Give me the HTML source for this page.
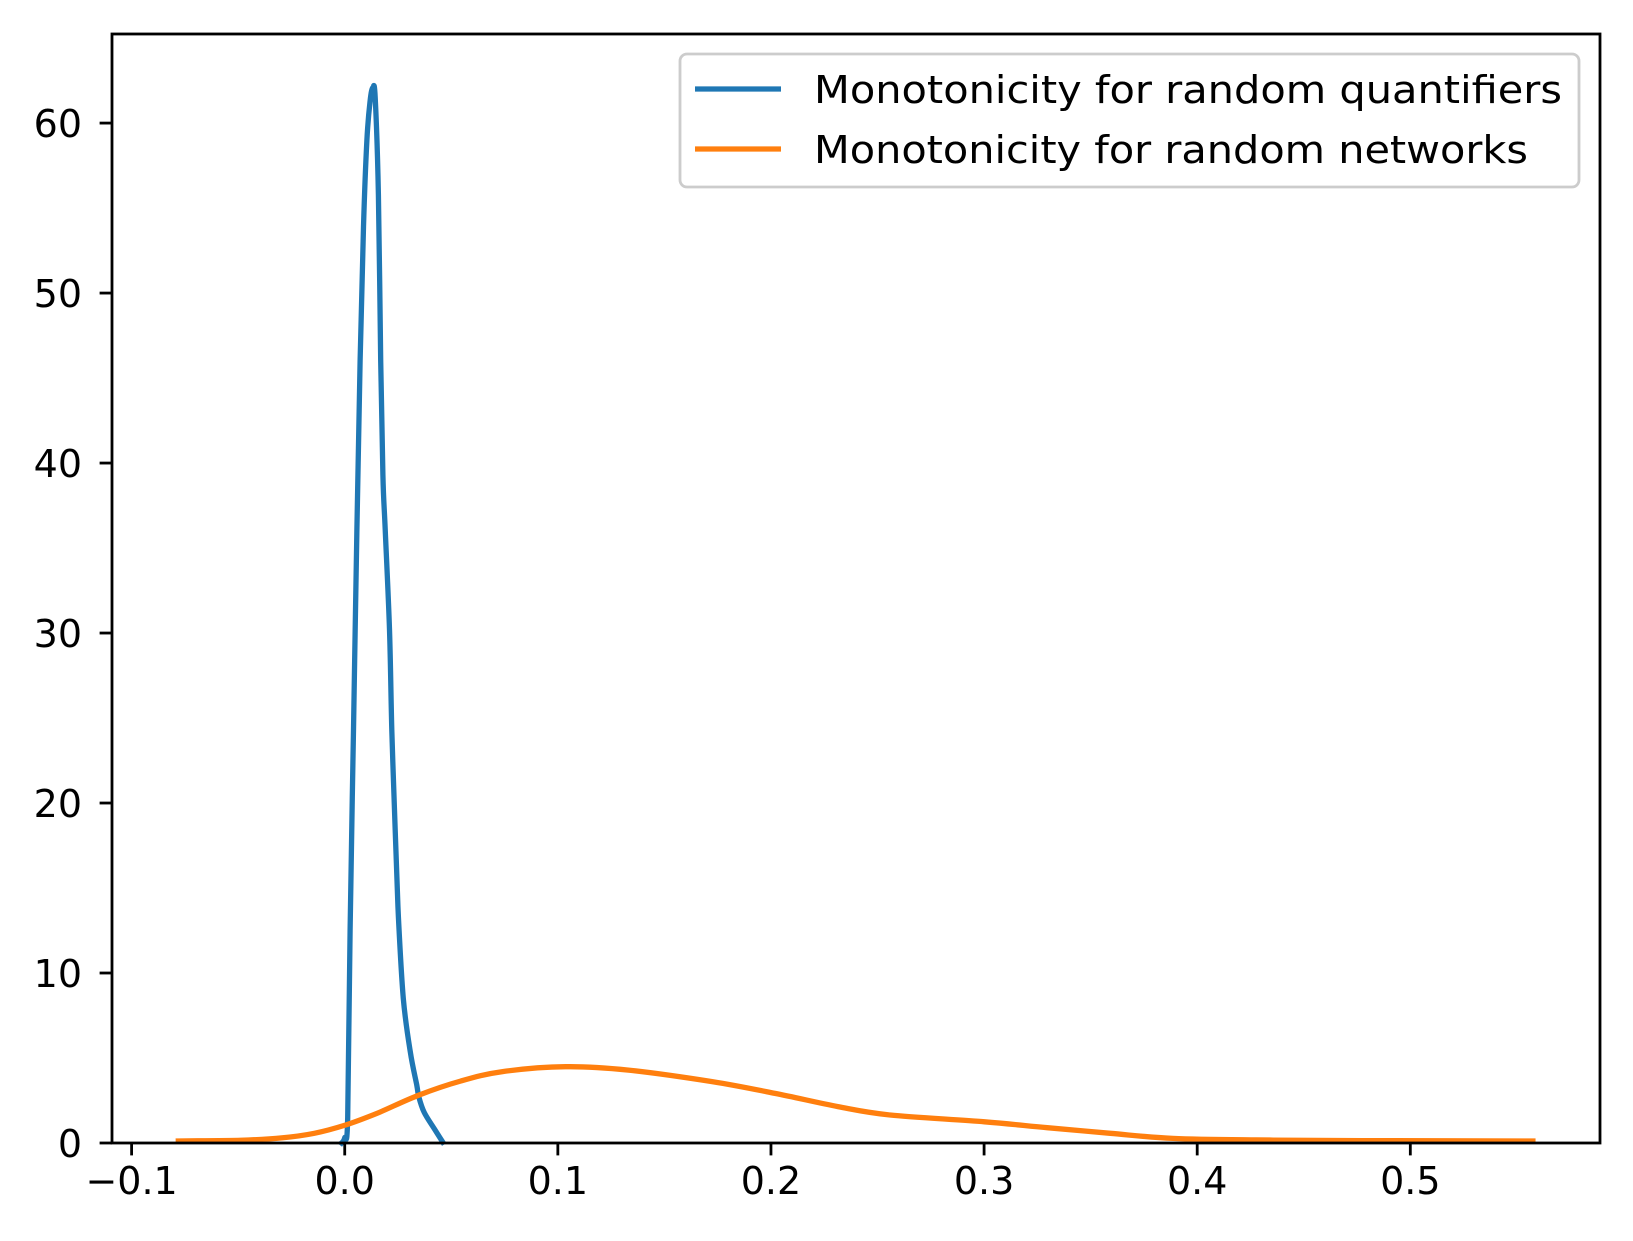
<!DOCTYPE html>
<html><head><meta charset="utf-8"><style>
html,body{margin:0;padding:0;background:#fff}
svg{display:block}
text{font-family:"DejaVu Sans","Liberation Sans",sans-serif;fill:#000}
</style></head><body>
<svg id="chart" width="1633" height="1241" viewBox="0 0 1633 1241" xmlns="http://www.w3.org/2000/svg">
<rect x="0" y="0" width="1633" height="1241" fill="#fff"/>
<g id="plot"></g>
</svg>
<script>
const xTicks=[-0.1,0.0,0.1,0.2,0.3,0.4,0.5];
const xTickLabels=["\u22120.1","0.0","0.1","0.2","0.3","0.4","0.5"];
const yTicks=[0,10,20,30,40,50,60];
const yTickLabels=["0","10","20","30","40","50","60"];
const quantX=[-0.0015,0.0000,0.0014,0.0025,0.0041,0.0057,0.0072,0.0088,0.0104,0.0119,0.0132,0.0143,0.0158,0.0169,0.0179,0.0190,0.0210,0.0221,0.0237,0.0252,0.0275,0.0307,0.0338,0.0348,0.0373,0.0422,0.0460];
const quantY=[0,0.3,1.5,12.5,24.3,36.1,46.0,53.9,59.0,61.3,62.1,61.5,55.8,46.0,39.3,36.1,30.2,24.3,18.4,13.3,8.5,5.4,3.4,2.7,1.8,0.8,0.05];
const netX=[-0.0781,-0.0487,-0.0290,-0.0143,0.0004,0.0152,0.0348,0.0545,0.0741,0.1036,0.1331,0.1724,0.2019,0.2314,0.2559,0.3002,0.3296,0.3592,0.3886,0.4279,0.4771,0.5575];
const netY=[0.12,0.16,0.31,0.57,1.06,1.75,2.82,3.65,4.20,4.49,4.29,3.61,2.92,2.14,1.65,1.25,0.90,0.57,0.27,0.18,0.14,0.12];
const seriesNames=["Monotonicity for random quantifiers","Monotonicity for random networks"];

const L=112,R=1600,T=34,B=1143;
const XMIN=-0.1092,XMAX=0.5890,YMIN=0,YMAX=65.24;
function sx(v){return L+(v-XMIN)/(XMAX-XMIN)*(R-L);}
function sy(v){return B-(v-YMIN)/(YMAX-YMIN)*(B-T);}
const NS="http://www.w3.org/2000/svg";
const g=document.getElementById('plot');
function mk(tag,attrs){const e=document.createElementNS(NS,tag);for(const k in attrs)e.setAttribute(k,attrs[k]);g.appendChild(e);return e;}

function smoothPath(xs,ys){
  const P=xs.map((x,i)=>[sx(x),sy(ys[i])]);
  let d='M'+P[0][0].toFixed(1)+','+P[0][1].toFixed(1);
  for(let i=0;i<P.length-1;i++){
    const p0=P[Math.max(0,i-1)],p1=P[i],p2=P[i+1],p3=P[Math.min(P.length-1,i+2)];
    const c1=[p1[0]+(p2[0]-p0[0])/6,p1[1]+(p2[1]-p0[1])/6];
    const c2=[p2[0]-(p3[0]-p1[0])/6,p2[1]-(p3[1]-p1[1])/6];
    d+=' C'+c1[0].toFixed(1)+','+c1[1].toFixed(1)+' '+c2[0].toFixed(1)+','+c2[1].toFixed(1)+' '+p2[0].toFixed(1)+','+p2[1].toFixed(1);
  }
  return d;
}
function line(xs,ys,color,name){
  const p=mk('path',{d:smoothPath(xs,ys),fill:'none',stroke:color,'stroke-width':5.3,'stroke-linejoin':'round','stroke-linecap':'square'});
  
  
}
line(quantX,quantY,'#1f77b4','quantifiers-density-line');
line(netX,netY,'#ff7f0e','networks-density-line');

const frame=mk('rect',{x:L,y:T,width:R-L,height:B-T,fill:'none',stroke:'#000','stroke-width':2.8});



xTicks.forEach((v,i)=>{
  const x=sx(v);
  const t=mk('line',{x1:x,y1:B,x2:x,y2:B+12.4,stroke:'#000','stroke-width':2.8});
  
  
  const lb=mk('text',{x:x,y:B+51,'font-size':38,'text-anchor':'middle'});
  lb.textContent=xTickLabels[i];
  
  
});
yTicks.forEach((v,i)=>{
  const y=sy(v);
  const t=mk('line',{x1:L-12.4,y1:y,x2:L,y2:y,stroke:'#000','stroke-width':2.8});
  
  
  const lb=mk('text',{x:L-30,y:y+14,'font-size':38,'text-anchor':'end'});
  lb.textContent=yTickLabels[i];
  
  
});

const lg=mk('rect',{x:680,y:54,width:899,height:133,rx:7,fill:'#fff','fill-opacity':0.8,stroke:'#cccccc','stroke-width':2.8});


const colors=['#1f77b4','#ff7f0e'];
const rowsY=[89,149];
const textLens=[748,714];
seriesNames.forEach((n,i)=>{
  const h=mk('line',{x1:695,y1:rowsY[i],x2:781,y2:rowsY[i],stroke:colors[i],'stroke-width':5.3});
  
  
  const t=mk('text',{x:814,y:rowsY[i]+14,'font-size':38,textLength:textLens[i],lengthAdjust:'spacingAndGlyphs'});
  t.textContent=n;
  
  
});
</script>
</body></html>
